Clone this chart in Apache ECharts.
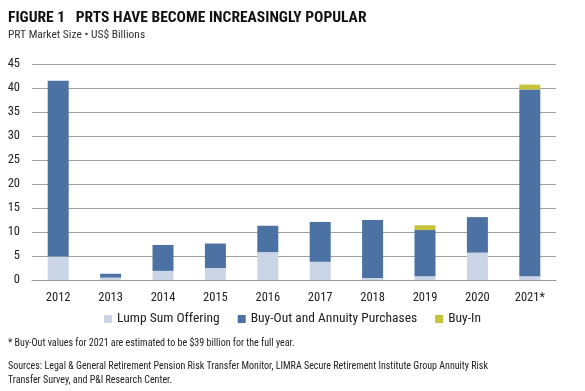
<!DOCTYPE html>
<html><head><meta charset="utf-8">
<script src="https://cdn.jsdelivr.net/npm/echarts@6/dist/echarts.min.js"></script>
<style>html,body{margin:0;padding:0;background:#fff}#c{width:585px;height:391px}</style>
</head><body><div id="c"></div>
<script>
const categories = ['2012','2013','2014','2015','2016','2017','2018','2019','2020','2021*'];
const lumpSum = [4.9, 0.5, 1.9, 2.5, 5.8, 3.8, 0.4, 0.8, 5.7, 0.8];
const buyOut = [36.6, 0.8, 5.4, 5.1, 5.5, 8.3, 12.1, 9.6, 7.4, 38.9];
const buyIn = [0, 0, 0, 0, 0, 0, 0, 1.0, 0, 1.0];
const yTicks = [0, 5, 10, 15, 20, 25, 30, 35, 40, 45];

const FONT = '"Liberation Sans Narrow", "Roboto Condensed", "DejaVu Sans Condensed", Roboto, sans-serif';
const chart = echarts.init(document.getElementById('c'), null, {renderer: 'canvas'});
chart.setOption({
  animation: false,
  textStyle: {fontFamily: FONT},
  grid: {left: 32, right: 29, top: 64, bottom: 111, containLabel: false},
  xAxis: {
    type: 'category', data: categories,
    axisLine: {lineStyle: {color: '#999', width: 1}},
    axisTick: {show: false},
    axisLabel: {color: '#222', fontSize: 12.5, margin: 11, fontFamily: FONT}
  },
  yAxis: {
    type: 'value', min: yTicks[0], max: yTicks[yTicks.length - 1], interval: 5,
    axisLine: {show: false}, axisTick: {show: false},
    splitLine: {lineStyle: {color: '#a0a0a0', width: 1}},
    axisLabel: {color: '#222', fontSize: 12.5, margin: 12, fontFamily: FONT}
  },
  legend: {
    bottom: 60, left: 'center', itemWidth: 8, itemHeight: 8, itemGap: 18,
    icon: 'rect',
    textStyle: {color: '#222', fontSize: 13.5, fontFamily: FONT},
    data: ['Lump Sum Offering', 'Buy-Out and Annuity Purchases', 'Buy-In']
  },
  series: [
    {name: 'Lump Sum Offering', type: 'bar', stack: 's', data: lumpSum, barWidth: 21, itemStyle: {color: '#cad5e5'}},
    {name: 'Buy-Out and Annuity Purchases', type: 'bar', stack: 's', data: buyOut, barWidth: 21, itemStyle: {color: '#4b72a3'}},
    {name: 'Buy-In', type: 'bar', stack: 's', data: buyIn, barWidth: 21, itemStyle: {color: '#c6c33a'}}
  ],
  graphic: [
    {type: 'text', left: 8, top: 10, style: {text: 'FIGURE 1   PRTS HAVE BECOME INCREASINGLY POPULAR', font: 'bold 15.5px ' + FONT, fill: '#111'}},
    {type: 'text', left: 8, top: 29, style: {text: 'PRT Market Size • US$ Billions', font: '11.5px ' + FONT, fill: '#333'}},
    {type: 'text', left: 8, top: 338, style: {text: '* Buy-Out values for 2021 are estimated to be $39 billion for the full year.', font: '10px ' + FONT, fill: '#222'}},
    {type: 'text', left: 8, top: 359, style: {text: 'Sources: Legal & General Retirement Pension Risk Transfer Monitor, LIMRA Secure Retirement Institute Group Annuity Risk\nTransfer Survey, and P&I Research Center.', font: '10px ' + FONT, fill: '#222', lineHeight: 14}}
  ]
});
</script></body></html>
